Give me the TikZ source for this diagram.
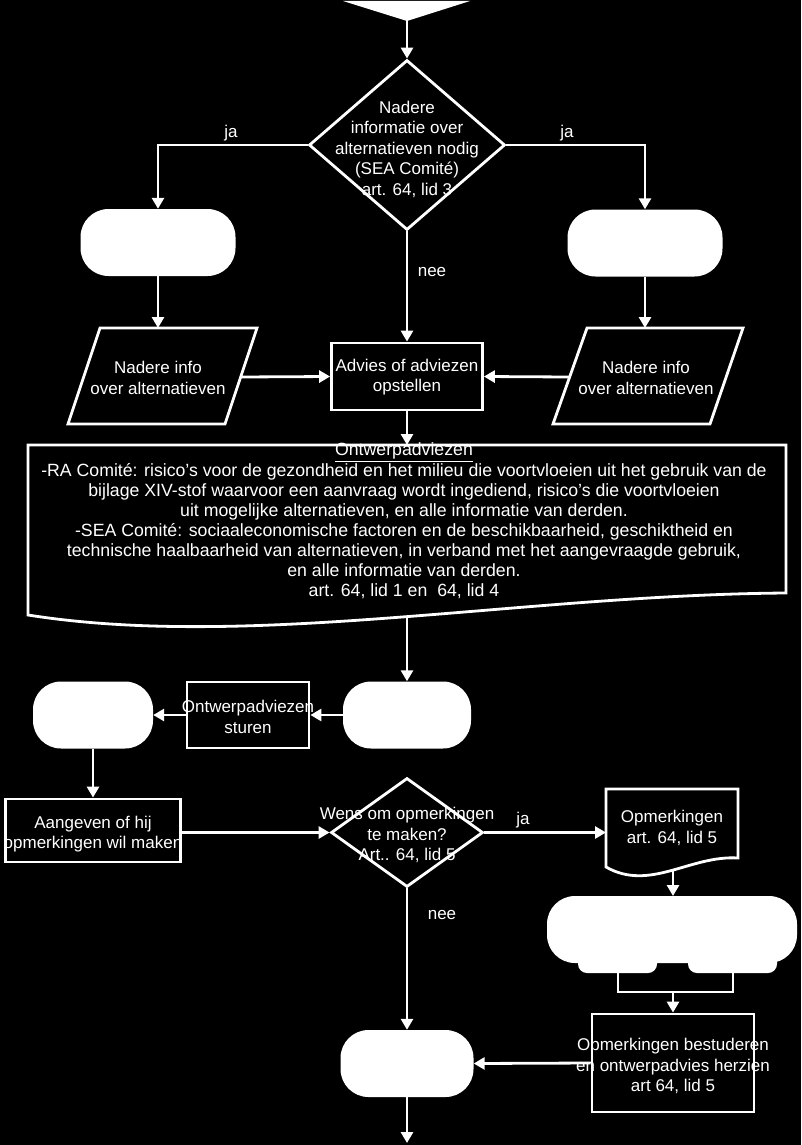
\documentclass[tikz,border=0pt]{standalone}
\usepackage{fontspec}
\setmainfont{Liberation Sans}
\usetikzlibrary{arrows.meta,shapes.geometric}
\begin{document}
\begin{tikzpicture}[x=1pt,y=-1pt,
  ln/.style={draw=white,line width=2.8pt,line join=miter},
  arr/.style={draw=white,line width=2.8pt,-{Triangle[width=12pt,length=11pt]}},
  term/.style={fill=white,draw=none,rounded corners=28pt,inner sep=0pt,minimum height=67pt},
  box/.style={draw=white,line width=2.8pt,inner sep=0pt},
  dia/.style={draw=white,line width=2.8pt,diamond,inner sep=0pt},
  txt/.style={text=white,align=center,font=\fontsize{17}{20.5}\selectfont,inner sep=0pt},
  doctxt/.style={text=white,align=center,font=\fontsize{17.7}{20.1}\selectfont,inner sep=0pt},
  lbl/.style={text=white,font=\fontsize{17}{20}\selectfont,inner sep=0pt},
]
\fill[black] (0,0) rectangle (801,1145);
\useasboundingbox (0,0) rectangle (801,1145);

% top merge triangle
\fill[white] (343,1) -- (470,1) -- (407,21) -- cycle;
\coordinate (tri) at (407,20);

% decision 1
\node[dia,minimum width=196pt,minimum height=170pt] (d1) at (407,145) {};
\node[txt] (d1t) at (407,149) {Nadere\\informatie over\\alternatieven nodig\\(SEA Comité)\\art. 64, lid 3};
\draw[arr] (tri) -- (d1.north);

% terminators row 1
\node[term,minimum width=155pt] (t1) at (158,242.5) {};
\node[term,minimum width=155pt] (t2) at (645,243) {};
\draw[arr] (d1.west) -| (t1.north);
\draw[arr] (d1.east) -| (t2.north);
\node[lbl] (ja1) at (231,133) {ja};
\node[lbl] (ja2) at (567,133) {ja};

% parallelograms
\draw[ln] (100,328) -- (257,328) -- (225,424) -- (68,424) -- cycle;
\coordinate (p1t) at (158,328);
\coordinate (p1r) at (241,377);
\node[txt] (p1) at (158,378) {Nadere info\\over alternatieven};
\draw[ln] (587,328) -- (743,328) -- (710,424) -- (553,424) -- cycle;
\coordinate (p2t) at (645,328);
\coordinate (p2l) at (569,377);
\node[txt] (p2) at (646,378) {Nadere info\\over alternatieven};
\draw[arr] (t1.south) -- (p1t);
\draw[arr] (t2.south) -- (p2t);

% advies box
\node[box,minimum width=151pt,minimum height=67pt] (a1) at (407,376.5) {};
\node[txt] (a1t) at (407,377) {Advies of adviezen\\opstellen};
\draw[arr] (d1.south) -- (a1.north);
\node[lbl] (nee1) at (432,272) {nee};
\draw[arr] (p1r) -- (a1.west);
\draw[arr] (p2l) -- (a1.east);

% big document
\draw[ln] (28,445) -- (786,445) -- (786,593) .. controls (520,595) and (250,650) .. (28,615) -- cycle;
\coordinate (doc1t) at (407,445);
\coordinate (doc1b) at (407,618);
\node[doctxt] (doc1) at (404,521) {\underline{Ontwerpadviezen}\\
-RA Comité: risico’s voor de gezondheid en het milieu die voortvloeien uit het gebruik van de\\
bijlage XIV-stof waarvoor een aanvraag wordt ingediend, risico’s die voortvloeien\\
uit mogelijke alternatieven, en alle informatie van derden.\\
-SEA Comité: sociaaleconomische factoren en de beschikbaarheid, geschiktheid en\\
technische haalbaarheid van alternatieven, in verband met het aangevraagde gebruik,\\
en alle informatie van derden.\\
art. 64, lid 1 en\ \ 64, lid 4};
\draw[arr] (a1.south) -- (doc1t);

% middle row
\node[term,minimum width=128pt] (t3) at (407,715) {};
\node[box,minimum width=122pt,minimum height=66pt] (s1) at (248,715) {};
\node[txt] (s1t) at (248,717) {Ontwerpadviezen\\sturen};
\node[term,minimum width=120pt] (t4) at (93,715) {};
\draw[arr] (doc1b) -- (t3.north);
\draw[arr] (t3.west) -- (s1.east);
\draw[arr] (s1.west) -- (t4.east);

% aangeven box
\node[box,minimum width=175pt,minimum height=63pt] (g1) at (93,830.5) {};
\node[txt] (g1t) at (93,834) {Aangeven of hij\\opmerkingen wil maken};
\draw[arr] (t4.south) -- (g1.north);

% decision 2
\node[dia,minimum width=152pt,minimum height=109pt] (d2) at (407,832.5) {};
\node[txt] (d2t) at (407,835) {Wens om opmerkingen\\te maken?\\Art.. 64, lid 5};
\draw[arr] (g1.east |- d2.west) -- (d2.west);

% document 2
\draw[ln] (606,789) -- (738,789) -- (738,858) .. controls (690,855) and (650,892) .. (606,867) -- cycle;
\coordinate (doc2l) at (606,832.5);
\coordinate (doc2b) at (673,871);
\node[txt] (doc2) at (672,828) {Opmerkingen\\art. 64, lid 5};
\draw[arr] (d2.east) -- (doc2l);
\node[lbl] (ja3) at (523,820) {ja};

% multi-lobed shape
\fill[white,rounded corners=28pt] (547,896) rectangle (797,963);
\fill[white,rounded corners=9pt] (578,925) rectangle (657,973);
\fill[white,rounded corners=9pt] (688,925) rectangle (777,973);
\coordinate (ct) at (673,896);
\coordinate (cl) at (618,972);
\coordinate (cr) at (733,972);
\coordinate (cb) at (673,992);
\draw[arr] (doc2b) -- (ct);
\draw[ln] (cl) -- (618,992) -- (733,992) -- (cr);

% review box
\node[box,minimum width=162pt,minimum height=98pt] (o2) at (673,1063) {};
\node[txt] (o2t) at (673,1066) {Opmerkingen bestuderen\\en ontwerpadvies herzien\\art 64, lid 5};
\draw[arr] (cb) -- (o2.north);

% final terminator
\node[term,minimum width=133pt] (t5) at (407,1063.5) {};
\draw[arr] (o2.west) -- (t5.east);
\draw[arr] (d2.south) -- (t5.north);
\node[lbl] (nee2) at (442,915) {nee};
\coordinate (endp) at (407,1143);
\draw[arr] (t5.south) -- (endp);
\end{tikzpicture}
\end{document}
